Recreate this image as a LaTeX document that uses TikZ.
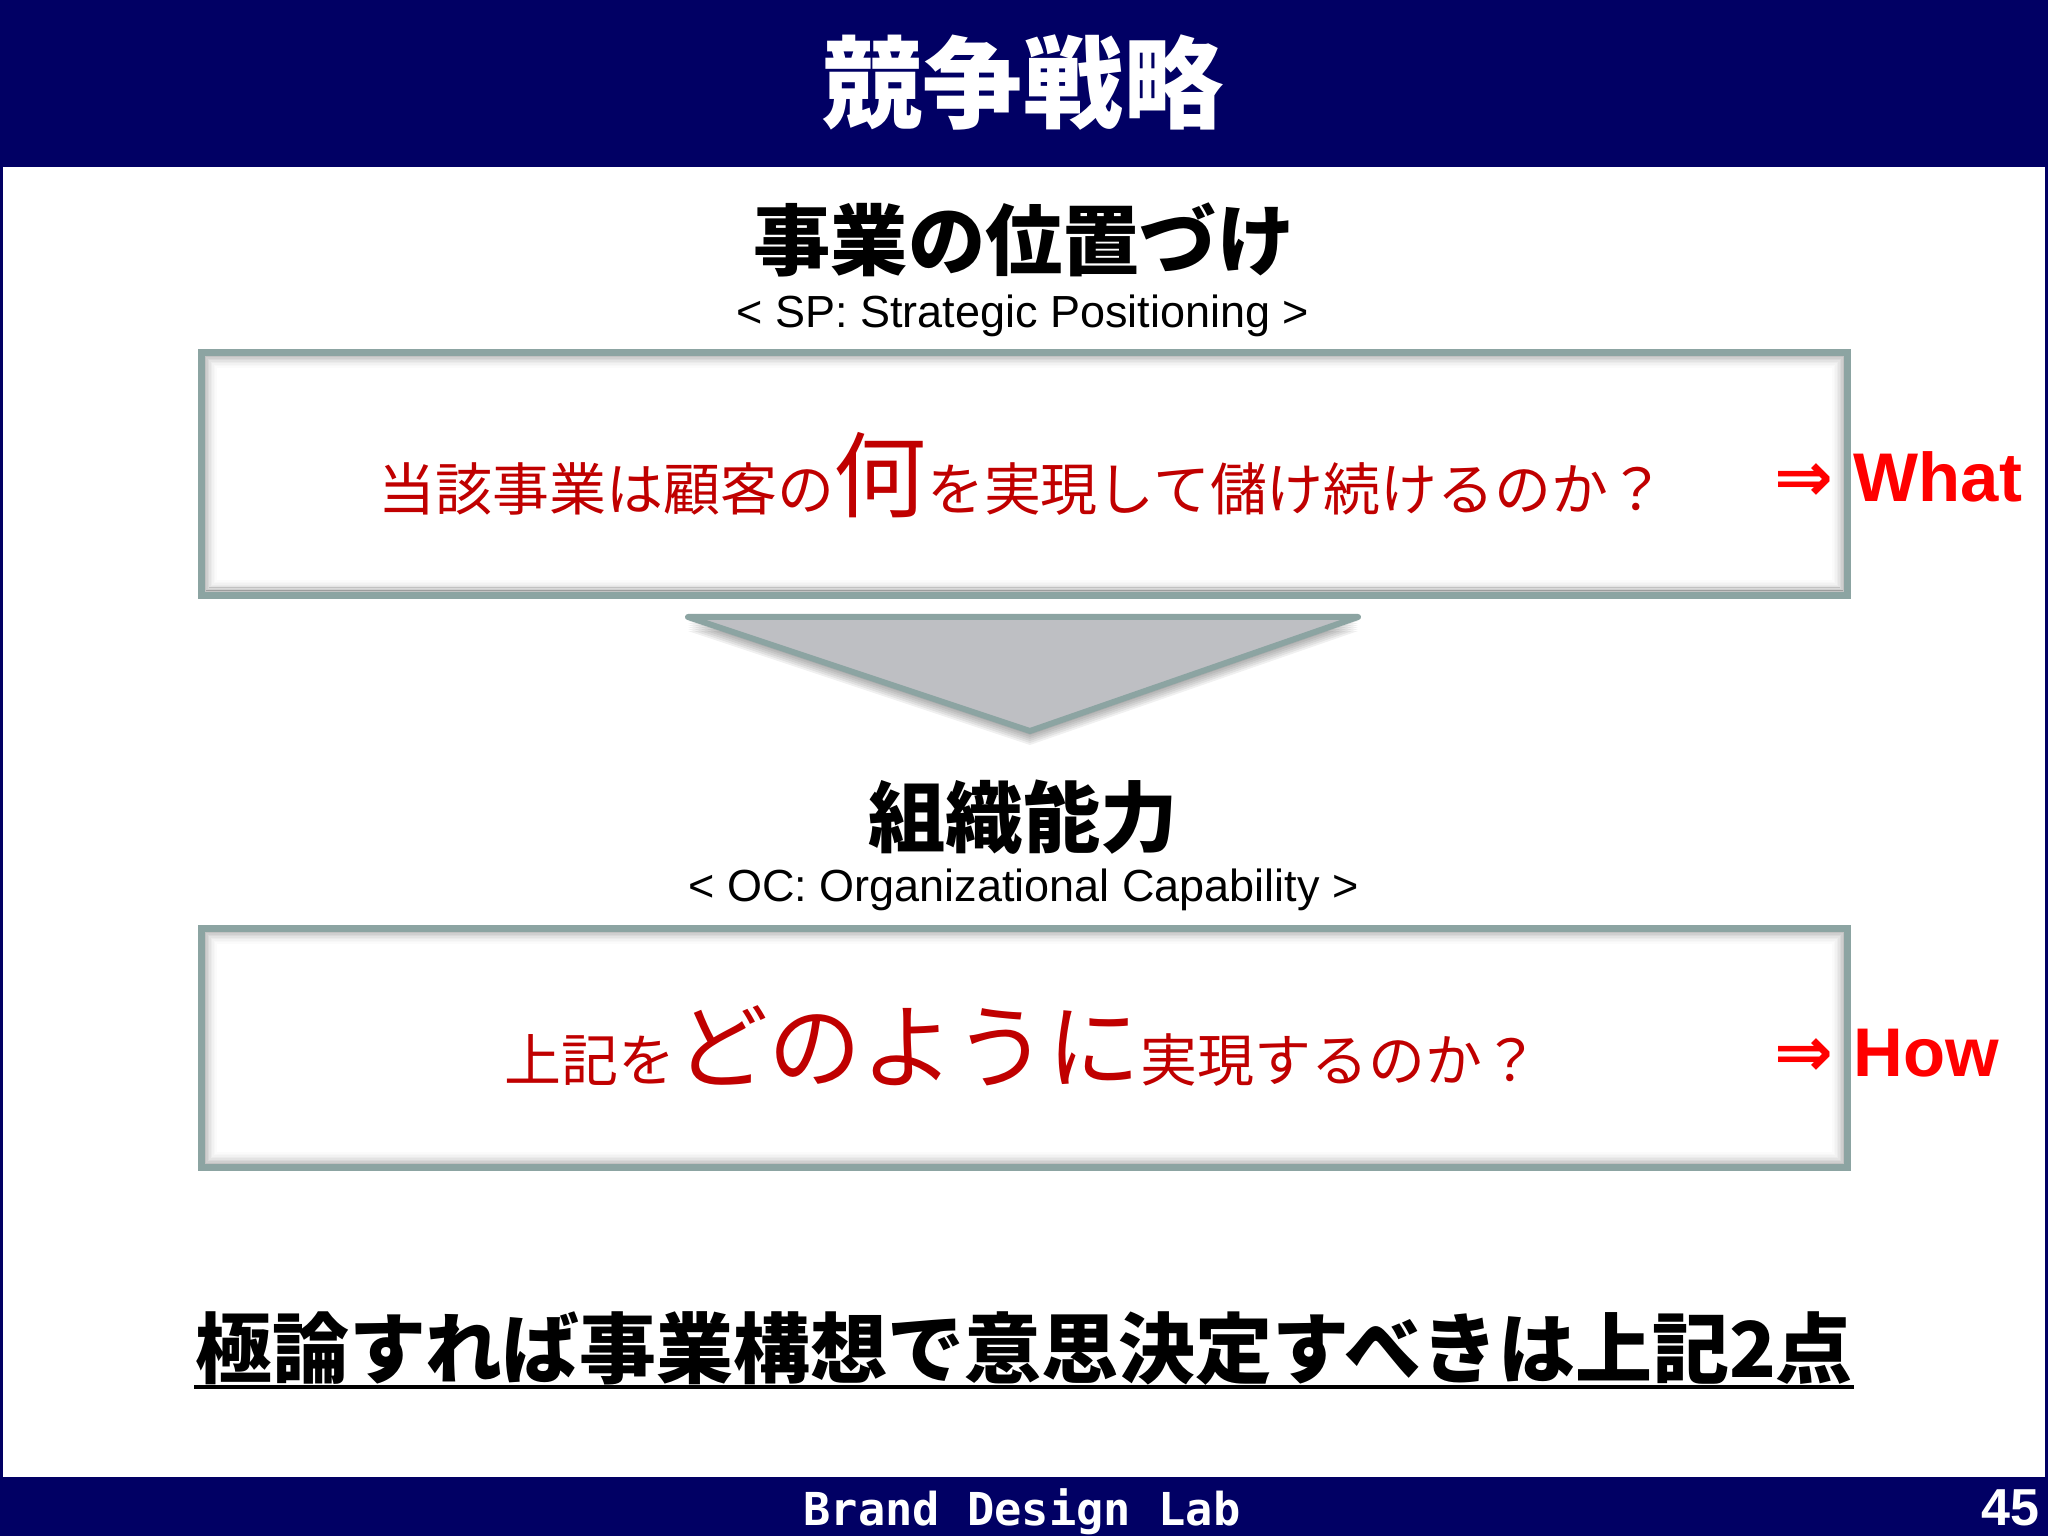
\documentclass[tikz,border=0pt]{standalone}
\usepackage{fontspec}
\setmainfont{Liberation Sans}
\newfontfamily\jpfont{Noto Sans CJK JP}
\newfontfamily\symfont{DejaVu Sans}
\newfontfamily\labfont{DejaVu Sans Mono}
\definecolor{navy}{RGB}{1,0,100}
\definecolor{boxgray}{RGB}{140,164,162}
\definecolor{trigray}{RGB}{190,191,195}
\definecolor{darkred}{RGB}{192,0,0}
\definecolor{brightred}{RGB}{255,0,0}
\newcommand{\bigask}[1]{{\fontsize{26.5pt}{30pt}\selectfont #1}}
\newcommand{\arr}{{\symfont\bfseries\fontsize{20pt}{22pt}\selectfont ⇒}\hspace{0.2cm}}
\begin{document}
\begin{tikzpicture}
	\tikzstyle{bar}=[fill=navy]
	\tikzstyle{title}=[text=white,inner sep=0,anchor=base,font={\jpfont\bfseries\fontsize{28.5pt}{32pt}\selectfont}]
	\tikzstyle{head}=[inner sep=0,anchor=base,font={\jpfont\bfseries\fontsize{22pt}{26pt}\selectfont}]
	\tikzstyle{sub}=[inner sep=0,anchor=base,font={\fontsize{12.8pt}{15pt}\selectfont}]
	\tikzstyle{box}=[draw=boxgray,line width=0.07cm,fill=white,minimum width=16.46cm,minimum height=2.43cm,inner sep=0]
	\tikzstyle{ask}=[text=darkred,inner sep=0,anchor=base,font={\jpfont\fontsize{16.2pt}{19pt}\selectfont}]
	\tikzstyle{tag}=[text=brightred,inner sep=0,anchor=base west,font={\bfseries\fontsize{19.6pt}{22pt}\selectfont}]
	\tikzstyle{tri}=[draw=boxgray,fill=trigray,line width=0.06cm,line join=round]
	\tikzstyle{foot}=[text=white,inner sep=0,anchor=base,font={\labfont\bfseries\fontsize{12.9pt}{15pt}\selectfont}]
	
	\useasboundingbox (0,0) rectangle (20.48,-15.36);
	\fill[white] (0,0) rectangle (20.48,-15.36);
	\fill[bar] (0,0) rectangle (20.48,-1.67);
	\fill[bar] (0,-14.77) rectangle (20.48,-15.36);
	\fill[bar] (0,-1.67) rectangle (0.03,-14.77);
	\fill[bar] (20.45,-1.67) rectangle (20.48,-14.77);
	
	\node [title] (ttl) at (10.23,-1.21) {競争戦略};
	
	\node [head] (sph) at (10.24,-2.70) {事業の位置づけ};
	\node [sub]  (spe) at (10.23,-3.28) {< SP: Strategic Positioning >};
	\node [box]  (sp)  at (10.245,-4.74) {};
	
	\node [head] (och) at (10.23,-8.46) {組織能力};
	\node [sub]  (oce) at (10.235,-9.01) {< OC: Organizational Capability >};
	\node [box,minimum height=2.39cm] (oc) at (10.245,-10.48) {};
	
	\foreach \b in {sp,oc}{
		\foreach \k/\op in {1/0.24,2/0.19,3/0.15,4/0.11,5/0.08,6/0.05,7/0.03,8/0.015}{
			\draw[black,draw opacity=\op,line width=0.016cm]
				([shift={(0.062+0.015*\k,-0.062-0.015*\k)}]\b.north west) rectangle
				([shift={(-0.062-0.015*\k,0.062+0.015*\k)}]\b.south east);
		}
	}
	
	\node [ask] (spq) at (10.22,-5.11) {当該事業は顧客の\bigask{何}を実現して儲け続けるのか？};
	\node [ask] (ocq) at (10.22,-10.81) {上記を\bigask{どのように}実現するのか？};
	
	\node [tag] (what) at (17.74,-5.02) {\arr What};
	\node [tag] (how)  at (17.74,-10.76) {\arr How};
	
	\foreach \k in {1,...,7}
		\fill[black,opacity=0.06] (6.88,-6.17-0.02*\k) -- (13.58,-6.17-0.02*\k) -- (10.30,-7.31-0.02*\k) -- cycle;
	\draw[tri] (6.88,-6.17) -- (13.58,-6.17) -- (10.30,-7.31) -- cycle;
	
	\node [head,font={\jpfont\bfseries\fontsize{21.9pt}{26pt}\selectfont}] (con) at (10.24,-13.77) {極論すれば事業構想で意思決定すべきは上記2点};
	\draw[line width=0.035cm] ([yshift=-0.10cm]con.base west) -- ([yshift=-0.10cm]con.base east);
	
	\node [foot] (lab) at (10.22,-15.25) {Brand Design Lab};
	\node [foot,anchor=base east,font={\bfseries\fontsize{14.8pt}{17pt}\selectfont}] (pg) at (20.40,-15.25) {45};
\end{tikzpicture}
\end{document}
